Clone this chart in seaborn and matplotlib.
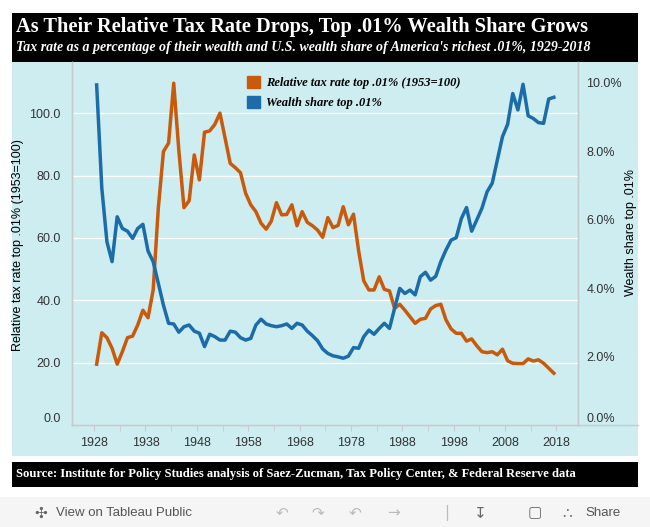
import numpy as np
import pandas as pd
import matplotlib
matplotlib.use('Agg')
import matplotlib.pyplot as plt
import matplotlib.patches as mpatches
from matplotlib.lines import Line2D
import seaborn as sns

# 데이터
years = list(range(1929, 2019))
tax_rate = [
    19.5, 29.6, 28.0, 24.6, 19.5, 23.5, 28.0, 28.5, 32.1, 36.8,
    34.4, 43.3, 69.5, 87.7, 90.4, 109.6, 88.0, 69.7, 71.9, 86.6,
    78.6, 93.9, 94.3, 96.4, 100.0, 92.0, 83.9, 82.5, 80.9, 74.3,
    70.6, 68.4, 64.7, 62.8, 65.4, 71.3, 67.4, 67.5, 70.6, 63.9,
    68.4, 65.0, 63.9, 62.5, 60.2, 66.5, 63.3, 64.0, 70.0, 64.2,
    67.6, 55.8, 46.2, 43.3, 43.3, 47.5, 43.5, 43.0, 37.4, 38.7,
    36.8, 34.7, 32.6, 33.9, 34.2, 37.2, 38.3, 38.7, 33.7, 30.8,
    29.4, 29.4, 26.9, 27.6, 25.4, 23.5, 23.2, 23.5, 22.5, 24.3,
    20.6, 19.8, 19.7, 19.7, 21.2, 20.5, 20.9, 19.8, 18.2, 16.6,
]
wealth_share = [
    9.93, 6.92, 5.35, 4.77, 6.08, 5.74, 5.66, 5.45, 5.74, 5.86,
    5.08, 4.77, 4.14, 3.50, 2.97, 2.95, 2.71, 2.87, 2.92, 2.74,
    2.68, 2.29, 2.65, 2.58, 2.48, 2.48, 2.74, 2.71, 2.55, 2.48,
    2.53, 2.92, 3.09, 2.95, 2.90, 2.87, 2.90, 2.95, 2.82, 2.97,
    2.92, 2.74, 2.61, 2.46, 2.22, 2.09, 2.02, 1.99, 1.95, 2.01,
    2.26, 2.24, 2.58, 2.77, 2.65, 2.82, 2.97, 2.82, 3.41, 3.99,
    3.84, 3.94, 3.80, 4.33, 4.46, 4.23, 4.34, 4.77, 5.11, 5.40,
    5.47, 6.03, 6.35, 5.66, 5.99, 6.33, 6.81, 7.06, 7.74, 8.42,
    8.78, 9.68, 9.20, 9.95, 9.03, 8.95, 8.83, 8.81, 9.52, 9.57,
]
tick_years = [1928, 1938, 1948, 1958, 1968, 1978, 1988, 1998, 2008, 2018]
left_ticks = [0, 20, 40, 60, 80, 100]
right_ticks = [0, 2, 4, 6, 8, 10]

title = "As Their Relative Tax Rate Drops, Top .01% Wealth Share Grows"
subtitle = ("Tax rate as a percentage of their wealth and U.S. wealth share "
            "of America's richest .01%, 1929-2018")
source = ("Source: Institute for Policy Studies analysis of Saez-Zucman, "
          "Tax Policy Center, & Federal Reserve data")
tax_label = "Relative tax rate top .01% (1953=100)"
wealth_label = "Wealth share top .01%"

df = pd.DataFrame({'year': years, 'tax': tax_rate, 'wealth': wealth_share})

ORANGE = '#c95a0c'
BLUE = '#1b6ca8'
TEAL = '#cdedf0'
SERIF = ['Liberation Serif', 'DejaVu Serif']
SANS = ['Liberation Sans', 'DejaVu Sans']

W, H = 650, 527


def fx(px):
    return px / W


def fy(py):
    return 1 - py / H


fig = plt.figure(figsize=(6.5, 5.27), dpi=100)
fig.patch.set_facecolor('white')


def rect(x0, y0, x1, y1, color):
    fig.add_artist(mpatches.Rectangle((fx(x0), fy(y1)), fx(x1) - fx(x0), fy(y0) - fy(y1),
                                      transform=fig.transFigure, color=color, lw=0, zorder=0))


rect(12, 13, 638, 62, 'black')
rect(12, 62, 638, 456, TEAL)
rect(12, 462, 638, 487, 'black')
rect(0, 497, 650, 527, '#f5f5f5')

# 제목
fig.text(fx(16), fy(27), title, color='white', fontsize=14.7, fontweight='bold',
         family=SERIF, va='center', ha='left')
fig.text(fx(16), fy(48), subtitle, color='white', fontsize=10, fontweight='bold',
         fontstyle='italic', family=SERIF, va='center', ha='left')
fig.text(fx(16), fy(474.5), source, color='white', fontsize=9.1, fontweight='bold',
         family=SERIF, va='center', ha='left')

# 툴바
fig.text(fx(34), fy(513), '\u2723', color='#666666', fontsize=11, va='center', ha='left',
         family=['DejaVu Sans'])
fig.text(fx(56), fy(513), 'View on Tableau Public', color='#555555', fontsize=9.5,
         family=SANS, va='center', ha='left')
for xp, g in [(282, '\u21b6'), (318, '\u21b7'), (355, '\u21b6'), (393, '\u2192'), (447, '|'),
              (480, '\u21a7'), (535, '\u25a2'), (567, '\u2234')]:
    fig.text(fx(xp), fy(513), g, color='#bbbbbb' if xp < 450 else '#666666', fontsize=11,
             va='center', ha='center', family=['DejaVu Sans'])
fig.text(fx(585), fy(513), 'Share', color='#555555', fontsize=9.5, family=SANS,
         va='center', ha='left')

# 축
ax = fig.add_axes([fx(72), fy(425), fx(578) - fx(72), fy(62) - fy(425)])
ax.patch.set_alpha(0)
sns.lineplot(data=df, x='year', y='tax', ax=ax, color=ORANGE, linewidth=2.5)
ax2 = ax.twinx()
ax2.patch.set_alpha(0)
sns.lineplot(data=df, x='year', y='wealth', ax=ax2, color=BLUE, linewidth=2.5)

ax.set_xlim(1924.2, 2022.7)
ax.set_ylim(0, 116.4)
ax2.set_ylim(0, 10.6)

ax.set_xticks([y + 0.5 for y in tick_years])
ax.set_xticklabels([str(y) for y in tick_years])
ax.set_xticks([y + 5.5 for y in tick_years[:-1]], minor=True)
ax.tick_params(axis='x', which='both', length=4, color='#c6cccd', labelsize=9,
               labelcolor='#333333', pad=5)
for lab in ax.get_xticklabels():
    lab.set_family(SANS)

ax.set_yticks(left_ticks)
ax.set_yticklabels([f'{v:.1f}' for v in left_ticks])
ax.tick_params(axis='y', length=0, labelsize=9, labelcolor='#333333', pad=8)
ax2.set_yticks(right_ticks)
ax2.set_yticklabels([f'{v:.1f}%' for v in right_ticks])
ax2.tick_params(axis='y', length=0, labelsize=9, labelcolor='#333333', pad=6)
for lab in ax.get_yticklabels() + ax2.get_yticklabels():
    lab.set_family(SANS)
ax.get_yticklabels()[0].set_va('bottom')
ax2.get_yticklabels()[0].set_va('bottom')

ax.grid(axis='y', color='white', linewidth=1)
ax.grid(axis='x', visible=False)
ax.set_axisbelow(True)
ax.set_xlabel('')
ax.set_ylabel('')
ax2.set_ylabel('')
for a in (ax, ax2):
    a.spines['top'].set_visible(False)
    for s in ('left', 'right', 'bottom'):
        a.spines[s].set_color('#c6cccd')
        a.spines[s].set_linewidth(1)
fig.add_artist(Line2D([fx(578), fx(638)], [fy(425), fy(425)], color='#c6cccd', lw=1,
                      transform=fig.transFigure))

fig.text(fx(18), fy(245), tax_label, rotation=90, fontsize=9, family=SANS,
         color='black', va='center', ha='center')
fig.text(fx(631), fy(232), wealth_label, rotation=90, fontsize=9, family=SANS,
         color='black', va='center', ha='center')

# 범례
handles = [mpatches.Patch(color=ORANGE, label=tax_label),
           mpatches.Patch(color=BLUE, label=wealth_label)]
leg = fig.legend(handles=handles, loc='upper left', bbox_to_anchor=(fx(236), fy(65)),
                 bbox_transform=fig.transFigure, frameon=False, handlelength=1.05,
                 handleheight=1.05, handletextpad=0.45, labelspacing=0.55,
                 prop={'family': SERIF, 'weight': 'bold', 'style': 'italic', 'size': 9})

fig.savefig('out.png', dpi=100)
